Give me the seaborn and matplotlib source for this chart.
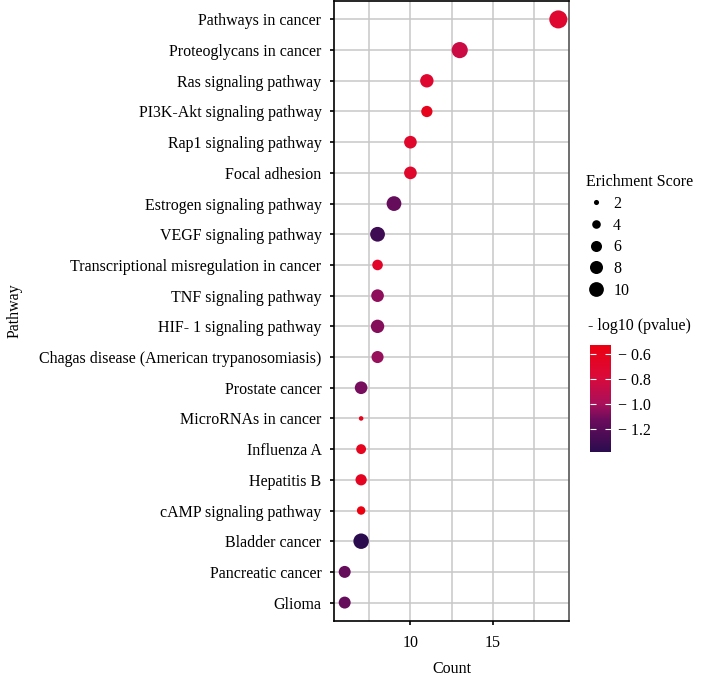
import numpy as np
import pandas as pd
import matplotlib
matplotlib.use('Agg')
import matplotlib.pyplot as plt
import seaborn as sns
from matplotlib.colors import LinearSegmentedColormap, Normalize
from matplotlib.lines import Line2D

# values (top to bottom)
pathways = ['Pathways in cancer', 'Proteoglycans in cancer', 'Ras signaling pathway',
            'PI3K-Akt signaling pathway', 'Rap1 signaling pathway', 'Focal adhesion',
            'Estrogen signaling pathway', 'VEGF signaling pathway',
            'Transcriptional misregulation in cancer', 'TNF signaling pathway',
            'HIF- 1 signaling pathway', 'Chagas disease (American trypanosomiasis)',
            'Prostate cancer', 'MicroRNAs in cancer', 'Influenza A', 'Hepatitis B',
            'cAMP signaling pathway', 'Bladder cancer', 'Pancreatic cancer', 'Glioma']
counts = [19, 13, 11, 11, 10, 10, 9, 8, 8, 8, 8, 8, 7, 7, 7, 7, 7, 7, 6, 6]
scores = [14.5, 11.8, 8.4, 6.2, 7.6, 7.6, 10.0, 10.0, 5.6, 7.6,
          8.4, 7.0, 7.6, 1.8, 5.0, 6.2, 3.9, 10.9, 6.9, 6.9]
neglogp = [-0.72, -0.85, -0.72, -0.60, -0.70, -0.70, -1.15, -1.30, -0.68, -1.05,
           -1.07, -1.03, -1.10, -0.60, -0.62, -0.64, -0.53, -1.38, -1.15, -1.15]
size_breaks = [2, 4, 6, 8, 10]
color_breaks = [-1.2, -1.0, -0.8, -0.6]

df = pd.DataFrame({'Pathway': pathways, 'Count': counts,
                   'Score': scores, 'logp': neglogp})

plt.rcParams['font.family'] = ['Liberation Serif', 'DejaVu Serif']
FS = 11.5

cmap = LinearSegmentedColormap.from_list(
    'pv', [(0.0, '#2A0C4E'), (0.3, '#6B0C5C'), (0.45, '#A8105A'),
           (0.7, '#DA0A3A'), (1.0, '#EC0010')])
cnorm = Normalize(vmin=min(neglogp), vmax=max(neglogp))

size_norm = (1, 15)
size_range = (1.0, 175)


def marker_area(v):
    return size_range[0] + (size_range[1] - size_range[0]) * (v - size_norm[0]) / (size_norm[1] - size_norm[0])


fig = plt.figure(figsize=(7.01, 6.76), dpi=100)
ax = fig.add_axes([334 / 701, 1 - 621 / 676, 235 / 701, 620 / 676])

sns.scatterplot(data=df, x='Count', y='Pathway', size='Score', sizes=size_range,
                size_norm=size_norm, hue='logp', palette=cmap, hue_norm=cnorm,
                linewidth=0, legend=False, ax=ax, zorder=3)

n = len(pathways)
ax.set_ylim(n - 1 + 0.6, -0.6)
ax.set_xlim(5.35, 19.65)
ax.set_xticks([10, 15])
ax.set_xticks([7.5, 12.5, 17.5], minor=True)
ax.set_yticks(range(n))
ax.set_yticklabels(pathways)
ax.grid(True, which='both', color='#c8c8c8', linewidth=1.1, zorder=0)
ax.set_axisbelow(True)
ax.tick_params(axis='both', which='major', length=3, width=1.2, labelsize=FS)
ax.tick_params(axis='y', pad=6)
ax.tick_params(axis='x', pad=7)
ax.tick_params(which='minor', length=0)
for side in ['left', 'bottom', 'top']:
    ax.spines[side].set_color('black')
    ax.spines[side].set_linewidth(1.2)
ax.spines['right'].set_color('#555555')
ax.spines['right'].set_linewidth(1.2)
ax.set_xlabel('Count', fontsize=FS, labelpad=7)
ax.set_ylabel('Pathway', fontsize=FS, labelpad=12)

# size legend
handles = [Line2D([], [], linestyle='none', marker='o', color='black',
                  markersize=np.sqrt(marker_area(v)), markeredgewidth=0)
           for v in size_breaks]
fig.legend(handles, [str(v) for v in size_breaks], title='Erichment Score',
           loc='upper left', bbox_to_anchor=(586 / 701, 1 - 174 / 676),
           frameon=False, alignment='left', fontsize=FS, title_fontsize=FS,
           labelspacing=0.36, handlelength=1.3, handletextpad=0.4, borderpad=0,
           borderaxespad=0)

# colour bar
cax = fig.add_axes([590 / 701, 1 - 452 / 676, 21 / 701, 107 / 676])
cb = fig.colorbar(plt.cm.ScalarMappable(norm=cnorm, cmap=cmap), cax=cax)
cb.outline.set_visible(False)
cb.set_ticks(color_breaks)
cb.set_ticklabels(['\u2212 ' + f'{abs(v):.1f}' for v in color_breaks])
cax.tick_params(direction='in', length=4, width=0.8, color='white',
                left=True, right=True, labelsize=FS, pad=5)
fig.text(588 / 701, 1 - 326 / 676, '- log10 (pvalue)', fontsize=FS,
         ha='left', va='center')

fig.savefig('out.png', dpi=100)
